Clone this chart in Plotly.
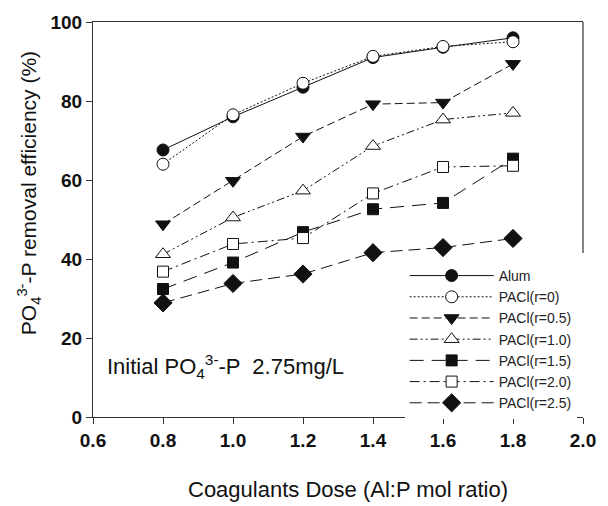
import plotly.graph_objects as go

dose = [0.8, 1.0, 1.2, 1.4, 1.6, 1.8]

alum = [67.6, 76.0, 83.5, 91.0, 93.6, 96.0]
pacl_r00 = [64.0, 76.5, 84.5, 91.3, 93.8, 95.0]
pacl_r05 = [48.8, 59.8, 71.0, 79.2, 79.6, 89.4]
pacl_r10 = [41.2, 50.5, 57.3, 68.6, 75.3, 77.0]
pacl_r15 = [32.4, 39.1, 46.8, 52.6, 54.2, 65.4]
pacl_r20 = [36.8, 43.8, 45.3, 56.6, 63.3, 63.6]
pacl_r25 = [28.9, 33.8, 36.2, 41.6, 42.9, 45.2]

names = ["Alum", "PACl(r=0)", "PACl(r=0.5)", "PACl(r=1.0)",
         "PACl(r=1.5)", "PACl(r=2.0)", "PACl(r=2.5)"]
series = [alum, pacl_r00, pacl_r05, pacl_r10, pacl_r15, pacl_r20, pacl_r25]

x_ticks = [0.6, 0.8, 1.0, 1.2, 1.4, 1.6, 1.8, 2.0]
y_ticks = [0, 20, 40, 60, 80, 100]

ink = "#111111"
styles = [
    dict(symbol="circle", fill=ink, dash="solid", size=12),
    dict(symbol="circle", fill="white", dash="2px,2px", size=12),
    dict(symbol="triangle-down", fill=ink, dash="8px,4px", size=13),
    dict(symbol="triangle-up", fill="white", dash="8px,3px,2px,3px,2px,3px", size=13),
    dict(symbol="square", fill=ink, dash="14px,8px", size=11),
    dict(symbol="square", fill="white", dash="10px,4px,2px,4px", size=11),
    dict(symbol="diamond", fill=ink, dash="12px,6px", size=14),
]

fig = go.Figure()
for name, vals, st in zip(names, series, styles):
    fig.add_trace(go.Scatter(
        x=dose, y=vals, name=name, mode="lines+markers",
        line=dict(color=ink, width=1, dash=st["dash"]),
        marker=dict(symbol=st["symbol"], size=st["size"], color=st["fill"],
                    line=dict(color=ink, width=1)),
    ))

axis_color = "#333333"
tickfont = dict(family="Liberation Sans, Arial, sans-serif", size=19,
                color="#111111", weight="bold")

fig.update_layout(
    width=608, height=506,
    margin=dict(l=93, r=15, t=17, b=89),
    paper_bgcolor="white", plot_bgcolor="white",
    showlegend=True,
    legend=dict(
        x=0.636, y=0.3975, xanchor="left", yanchor="top",
        bgcolor="white", borderwidth=0, itemwidth=84,
        font=dict(family="Liberation Sans, Arial, sans-serif", size=14, color="#222222"),
    ),
    xaxis=dict(
        range=[0.6, 2.0], tickvals=x_ticks, tickformat=".1f",
        showgrid=False, zeroline=False, showline=True, linecolor=axis_color,
        linewidth=1.2, mirror=True, ticks="outside", ticklen=6, tickcolor=axis_color,
        tickfont=tickfont,
    ),
    yaxis=dict(
        range=[0, 100], tickvals=y_ticks,
        showgrid=False, zeroline=False, showline=True, linecolor=axis_color,
        linewidth=1.2, mirror=False, ticks="outside", ticklen=6, tickcolor=axis_color,
        tickfont=tickfont,
    ),
    shapes=[dict(type="line", xref="paper", yref="paper", x0=1, x1=1, y0=0.415, y1=1,
                 line=dict(color=axis_color, width=1.2))],
    annotations=[
        dict(text="Coagulants Dose (Al:P mol ratio)", xref="paper", yref="paper",
             x=0.52, y=-0.1825, xanchor="center", yanchor="middle", showarrow=False,
             font=dict(family="Liberation Sans, Arial, sans-serif", size=22, color="#111111")),
        dict(text="PO<sub>4</sub><sup>3-</sup>-P removal efficiency (%)", xref="paper", yref="paper",
             x=-0.13, y=0.5675, xanchor="center", yanchor="middle", textangle=-90, showarrow=False,
             font=dict(family="Liberation Sans, Arial, sans-serif", size=21, color="#111111")),
        dict(text="Initial PO<sub>4</sub><sup>3-</sup>-P  2.75mg/L", xref="paper", yref="paper",
             x=0.024, y=0.1275, xanchor="left", yanchor="middle", showarrow=False,
             font=dict(family="Liberation Sans, Arial, sans-serif", size=22, color="#111111")),
    ],
)

fig.write_html("out.html")
